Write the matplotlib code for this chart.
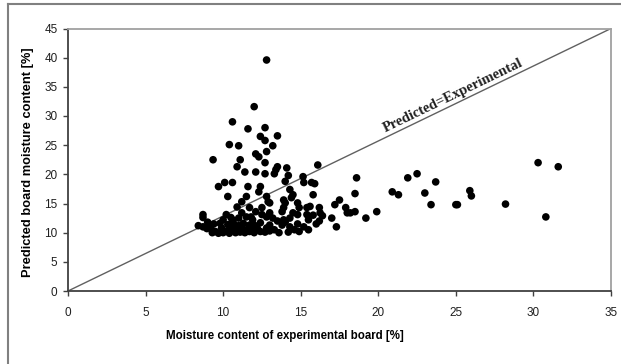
import matplotlib.pyplot as plt
from matplotlib.lines import Line2D

# experimental vs predicted moisture content [%]
exp_mc = [
    12.8, 12.0, 10.6, 11.6, 12.7, 12.4, 12.7, 13.5, 10.4, 11.0, 13.2, 12.8, 12.1, 12.3,
    9.35, 11.1, 12.7, 10.9, 11.4, 12.1, 12.7, 13.4, 13.3, 13.5, 14.1, 14.2, 14.0, 15.15,
    15.2, 15.7, 15.9, 16.1, 10.1, 10.6, 9.7, 11.6, 12.4, 12.3, 10.3, 11.5, 12.8, 12.9,
    11.2, 10.9, 11.7, 12.5, 8.7, 10.2, 11.2, 12.1, 12.8, 14.3, 14.5, 14.4, 13.9, 15.8,
    14.8, 14.0, 13.0, 13.9, 14.9, 15.4, 15.6, 16.2, 13.8, 14.5, 13.0, 12.5, 14.8, 15.4,
    13.2, 13.9, 14.3, 15.5, 11.9, 12.4, 12.0, 13.0, 13.8, 14.3, 12.1, 12.8, 13.3, 14.6,
    16.25, 16.4, 17.0, 17.3, 17.2, 17.5, 17.9, 18.0, 18.2, 18.5, 18.5, 18.6, 19.2, 19.9,
    20.9, 21.3, 21.9, 22.5, 23.0, 23.4, 23.7, 25.0, 25.1, 25.9, 26.0, 28.2, 30.3, 31.6,
    30.8,
    8.4, 8.7, 8.95, 9.5, 9.9, 10.25, 10.6, 10.9, 11.2, 11.5, 11.9, 12.2, 10.0, 10.6,
    11.5, 11.8, 8.7, 9.2, 9.3, 9.7, 10.0, 10.4, 10.8, 11.1, 11.4, 11.7, 12.0, 12.4,
    12.7, 13.0, 9.4, 9.8, 10.3, 10.7, 11.0, 11.3, 11.7, 9.0, 10.5, 11.0, 13.5, 14.0,
    14.8, 15.2, 15.5, 14.9, 13.6, 14.2, 16.0, 16.2, 15.8,
]
pred_mc = [
    39.6, 31.6, 29.0, 27.8, 28.0, 26.5, 25.8, 26.6, 25.1, 24.9, 24.9, 23.9, 23.5, 23.0,
    22.5, 22.5, 22.0, 21.3, 20.4, 20.4, 20.1, 20.8, 20.1, 21.3, 21.1, 19.8, 18.8, 19.6,
    18.6, 18.6, 18.4, 21.6, 18.6, 18.6, 17.9, 17.9, 17.9, 17.0, 16.2, 16.2, 16.2, 15.3,
    15.3, 14.4, 14.3, 14.3, 13.1, 13.1, 13.4, 13.6, 12.7, 17.4, 16.5, 16.0, 15.6, 16.5,
    15.1, 15.1, 15.1, 14.3, 14.3, 14.3, 14.5, 14.3, 13.6, 13.4, 13.4, 13.1, 13.1, 13.1,
    12.5, 12.2, 12.5, 12.2, 12.2, 11.7, 11.3, 11.3, 11.3, 11.0, 10.8, 10.8, 10.5, 10.5,
    13.4, 12.9, 12.5, 11.0, 14.8, 15.6, 14.3, 13.4, 13.4, 13.6, 16.7, 19.4, 12.5, 13.6,
    17.0, 16.5, 19.4, 20.1, 16.8, 14.8, 18.7, 14.8, 14.8, 17.2, 16.3, 14.9, 22.0, 21.3,
    12.7,
    11.2, 11.0, 10.7, 10.2, 10.8, 10.3, 10.8, 10.5, 10.8, 10.5, 10.8, 10.8, 12.2, 12.2,
    12.7, 12.7, 12.6, 11.0, 10.0, 9.9, 10.0, 9.9, 10.0, 10.1, 10.0, 10.2, 10.0, 10.2,
    10.1, 10.3, 11.5, 11.6, 11.4, 11.5, 11.2, 11.6, 11.3, 11.8, 12.6, 12.5, 12.0, 11.8,
    11.5, 11.0, 10.5, 10.2, 10.0, 10.1, 11.5, 12.0, 13.0,
]
x_ticks = [0, 5, 10, 15, 20, 25, 30, 35]
y_ticks = [0, 5, 10, 15, 20, 25, 30, 35, 40, 45]

sans = ['Liberation Sans', 'DejaVu Sans']

fig = plt.figure(figsize=(6.21, 3.64), dpi=100)
ax = fig.add_axes([68 / 621, 1 - 291 / 364, 543 / 621, 262.5 / 364])

ax.scatter(exp_mc, pred_mc, s=30, color='black', edgecolors='none', zorder=3)
ax.plot([0, 35], [0, 45], color='#606060', lw=1.0, zorder=2)
ax.text(25.0, 32.5, 'Predicted=Experimental', rotation=25.8, rotation_mode='anchor',
        ha='center', va='bottom', family=['Liberation Serif', 'DejaVu Serif'],
        fontsize=10.5, fontweight='bold', color='#202020')

ax.set_xlim(0, 35)
ax.set_ylim(0, 45)
ax.set_xticks(x_ticks)
ax.set_yticks(y_ticks)
ax.tick_params(direction='out', length=3.5, width=1, color='#404040',
               labelsize=8.5, labelcolor='#202020')
ax.tick_params(axis='x', pad=8)
ax.tick_params(axis='y', pad=4)
for t in ax.get_xticklabels() + ax.get_yticklabels():
    t.set_family(sans)

for side in ['left', 'bottom']:
    ax.spines[side].set_color('#404040')
    ax.spines[side].set_linewidth(1.3)
for side in ['top', 'right']:
    ax.spines[side].set_color('#a0a0a0')
    ax.spines[side].set_linewidth(1.3)

ax.set_xlabel('Moisture content of experimental board [%]', fontsize=8.3,
              fontweight='bold', family=sans)
ax.set_ylabel('Predicted board moisture content [%]', fontsize=9.3,
              fontweight='bold', family=sans)
ax.xaxis.set_label_coords(0.40, -0.148)
ax.yaxis.set_label_coords(-0.062, 0.49)

# outer frame around the figure
fig.add_artist(Line2D([7.5 / 621, 7.5 / 621], [0, 1 - 4 / 364], color='#808080', lw=1.5))
fig.add_artist(Line2D([7.5 / 621, 1], [1 - 4 / 364, 1 - 4 / 364], color='#808080', lw=1.5))

fig.savefig('out.png', dpi=100)
